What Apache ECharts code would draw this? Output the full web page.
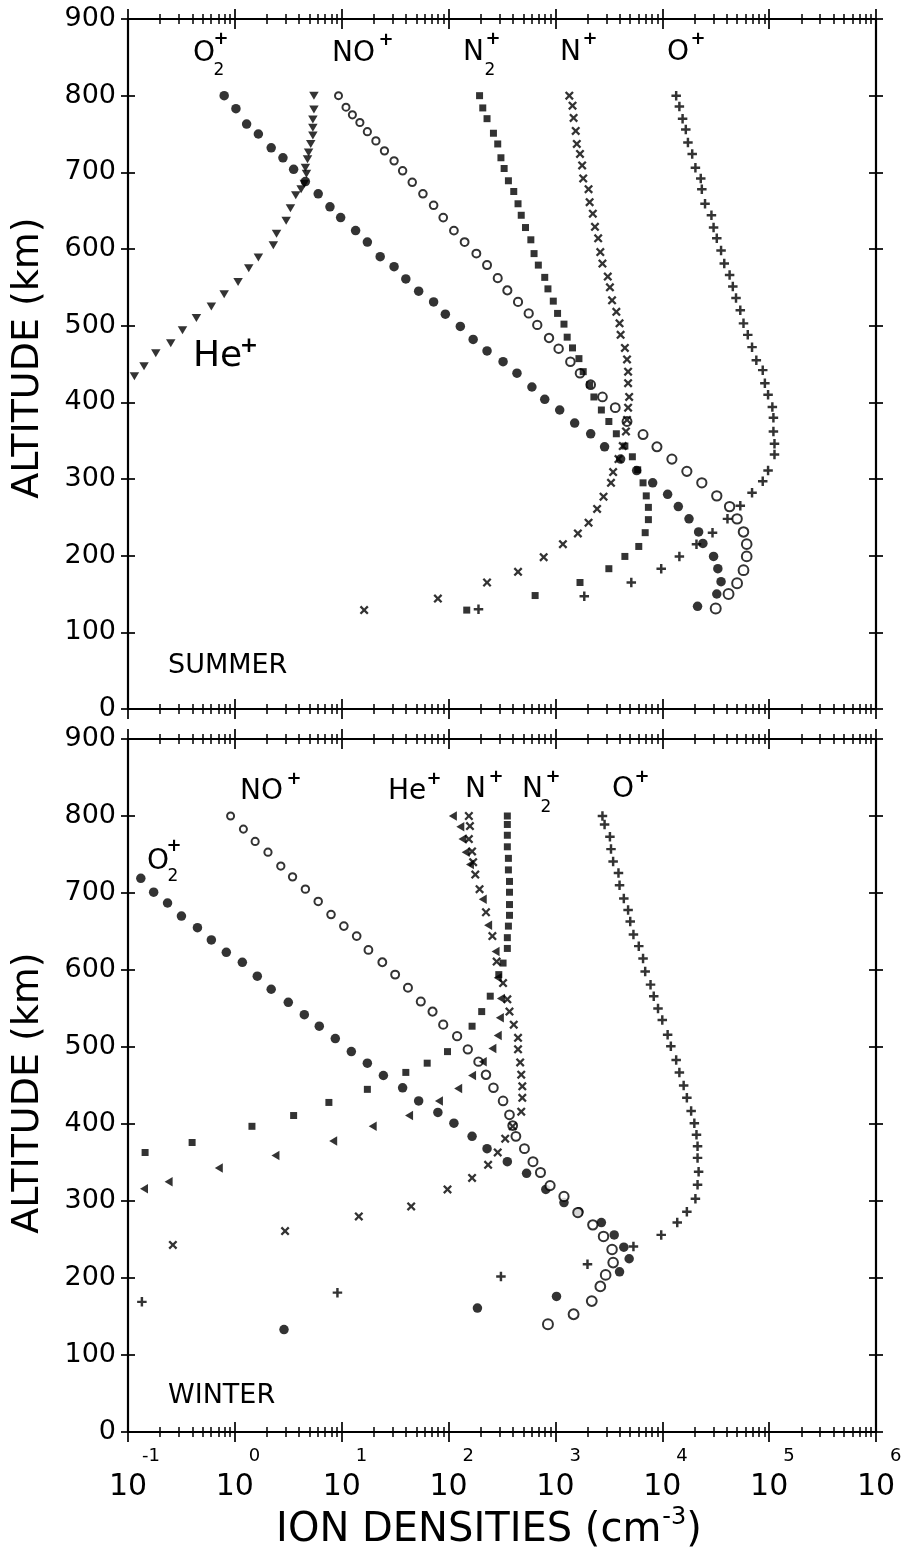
<!DOCTYPE html>
<html>
<head>
<meta charset="utf-8">
<script src="https://cdn.jsdelivr.net/npm/echarts@6/dist/echarts.min.js"></script>
<style>
html,body{margin:0;padding:0;background:#fff;}
#chart{width:904px;height:1552px;}
</style>
</head>
<body>
<div id="chart"></div>
<script>
// ---------- tick labels ----------
const altitudeTicks = [0, 100, 200, 300, 400, 500, 600, 700, 800, 900];
const decadeTicks = [0.1, 1, 10, 100, 1000, 10000, 100000, 1000000];
const decadeExponents = [-1, 0, 1, 2, 3, 4, 5, 6];
const minorMultipliers = [2, 3, 4, 5, 6, 7, 8, 9];

// ---------- data: [log10(ion density, cm^-3), altitude km] ----------
const summerO2 = [[-0.10,800],[0.01,783],[0.11,763],[0.22,750],[0.34,732],[0.45,719],[0.55,704],[0.66,688],[0.78,672],[0.89,655],[0.99,641],[1.13,624],[1.24,609],[1.36,590],[1.49,577],[1.60,561],[1.72,545],[1.86,531],[1.97,515],[2.11,499],[2.23,482],[2.36,467],[2.51,453],[2.64,438],[2.78,420],[2.90,404],[3.04,390],[3.18,373],[3.33,359],[3.46,342],[3.61,326],[3.76,311],[3.91,295],[4.05,280],[4.15,264],[4.25,248],[4.34,231],[4.38,216],[4.48,199],[4.52,183],[4.55,166],[4.51,150],[4.33,134]];
const summerNO = [[0.97,800],[1.04,785],[1.10,775],[1.17,765],[1.24,753],[1.32,741],[1.40,728],[1.49,715],[1.57,702],[1.66,687],[1.76,672],[1.86,657],[1.95,641],[2.05,624],[2.15,609],[2.26,594],[2.36,579],[2.46,562],[2.55,546],[2.65,531],[2.75,516],[2.83,501],[2.94,484],[3.03,470],[3.14,453],[3.23,438],[3.33,423],[3.44,407],[3.56,393],[3.67,375],[3.82,358],[3.95,342],[4.09,326],[4.23,310],[4.37,295],[4.51,278],[4.63,264],[4.70,248],[4.76,231],[4.79,215],[4.79,199],[4.76,181],[4.70,164],[4.62,150],[4.50,131]];
const summerN2 = [[2.29,800],[2.32,784],[2.36,770],[2.42,751],[2.46,737],[2.49,719],[2.52,705],[2.56,689],[2.61,675],[2.65,659],[2.68,644],[2.72,628],[2.77,612],[2.80,594],[2.84,579],[2.90,563],[2.93,548],[2.98,532],[3.02,516],[3.08,502],[3.11,485],[3.16,471],[3.22,457],[3.26,440],[3.32,423],[3.36,407],[3.43,390],[3.50,375],[3.57,359],[3.65,343],[3.72,329],[3.77,312],[3.82,295],[3.85,278],[3.87,263],[3.87,247],[3.84,230],[3.78,212],[3.65,199],[3.50,183],[3.23,165],[2.81,148],[2.17,129]];
const summerN = [[3.13,800],[3.16,787],[3.17,771],[3.19,754],[3.20,737],[3.23,724],[3.25,709],[3.26,692],[3.31,678],[3.32,661],[3.35,646],[3.37,629],[3.40,614],[3.42,596],[3.44,581],[3.49,564],[3.51,550],[3.53,533],[3.57,518],[3.60,503],[3.61,488],[3.65,471],[3.67,456],[3.68,440],[3.68,425],[3.69,407],[3.68,393],[3.67,377],[3.66,362],[3.63,343],[3.59,326],[3.54,309],[3.52,295],[3.45,277],[3.39,261],[3.31,243],[3.21,229],[3.07,215],[2.89,198],[2.65,179],[2.36,165],[1.90,144],[1.21,129]];
const summerO = [[4.13,800],[4.16,786],[4.19,770],[4.22,756],[4.24,739],[4.28,724],[4.31,706],[4.36,692],[4.37,678],[4.40,659],[4.46,644],[4.48,628],[4.51,614],[4.55,598],[4.58,581],[4.63,566],[4.66,551],[4.69,536],[4.73,520],[4.76,503],[4.80,488],[4.84,472],[4.88,455],[4.94,442],[4.96,425],[4.99,410],[5.03,394],[5.04,380],[5.04,362],[5.05,346],[5.05,332],[4.99,311],[4.94,297],[4.84,282],[4.73,265],[4.61,248],[4.47,230],[4.32,215],[4.16,199],[3.99,183],[3.71,165],[3.27,147],[2.28,130]];
const summerHe = [[0.74,800],[0.74,782],[0.73,769],[0.73,758],[0.73,748],[0.71,737],[0.69,726],[0.68,717],[0.66,706],[0.67,698],[0.65,685],[0.62,678],[0.57,670],[0.52,653],[0.48,637],[0.39,620],[0.36,605],[0.22,589],[0.13,575],[0.03,557],[-0.10,541],[-0.22,525],[-0.36,510],[-0.49,494],[-0.60,477],[-0.74,464],[-0.85,447],[-0.94,434]];

const winterO2 = [[-0.88,719],[-0.76,701],[-0.63,687],[-0.50,670],[-0.35,655],[-0.22,639],[-0.08,623],[0.07,610],[0.21,592],[0.34,575],[0.50,558],[0.65,542],[0.79,527],[0.94,511],[1.09,494],[1.24,479],[1.39,463],[1.57,447],[1.72,430],[1.90,415],[2.05,401],[2.22,384],[2.36,368],[2.55,351],[2.73,336],[2.91,315],[3.08,298],[3.22,286],[3.43,272],[3.55,256],[3.64,240],[3.69,225],[3.60,208],[3.01,176],[2.27,161],[0.46,133]];
const winterNO = [[-0.04,800],[0.08,783],[0.19,767],[0.31,753],[0.43,735],[0.54,721],[0.66,705],[0.78,689],[0.90,672],[1.02,657],[1.14,644],[1.25,626],[1.38,610],[1.50,594],[1.62,577],[1.74,559],[1.85,546],[1.95,529],[2.08,514],[2.18,497],[2.28,481],[2.35,464],[2.42,447],[2.51,430],[2.57,412],[2.60,398],[2.63,384],[2.71,368],[2.79,351],[2.86,337],[2.95,320],[3.08,306],[3.21,285],[3.35,269],[3.45,254],[3.53,237],[3.54,220],[3.47,204],[3.42,189],[3.34,170],[3.17,153],[2.93,140]];
const winterN2 = [[2.55,800],[2.55,789],[2.55,775],[2.55,760],[2.56,745],[2.56,730],[2.57,715],[2.57,701],[2.57,685],[2.57,671],[2.56,657],[2.55,642],[2.55,628],[2.51,609],[2.47,594],[2.39,566],[2.31,546],[2.22,527],[1.99,494],[1.80,479],[1.60,467],[1.24,445],[0.88,428],[0.55,411],[0.16,397],[-0.40,376],[-0.84,363]];
const winterN = [[2.19,800],[2.20,787],[2.19,770],[2.22,754],[2.23,740],[2.25,724],[2.29,705],[2.35,675],[2.41,644],[2.45,611],[2.51,583],[2.55,562],[2.57,546],[2.61,529],[2.65,512],[2.65,497],[2.67,480],[2.68,464],[2.69,449],[2.69,434],[2.68,416],[2.60,397],[2.53,381],[2.46,363],[2.37,347],[2.22,330],[1.99,315],[1.65,293],[1.16,280],[0.47,261],[-0.58,243]];
const winterO = [[3.44,800],[3.46,789],[3.51,773],[3.52,757],[3.54,741],[3.59,726],[3.60,710],[3.64,693],[3.68,678],[3.70,663],[3.73,646],[3.78,631],[3.82,615],[3.84,598],[3.89,581],[3.92,566],[3.96,550],[4.00,535],[4.05,516],[4.08,501],[4.13,483],[4.16,467],[4.20,450],[4.23,434],[4.27,417],[4.30,401],[4.32,386],[4.33,371],[4.33,356],[4.34,338],[4.33,321],[4.31,303],[4.23,286],[4.14,272],[3.99,256],[3.73,241],[3.30,218],[2.49,202],[0.96,181],[-0.87,169]];
const winterHe = [[2.04,800],[2.11,786],[2.13,770],[2.16,753],[2.20,737],[2.32,692],[2.37,658],[2.44,624],[2.46,590],[2.49,563],[2.48,538],[2.46,515],[2.41,498],[2.32,481],[2.22,463],[2.09,446],[1.91,430],[1.63,411],[1.29,397],[0.92,378],[0.38,359],[-0.15,343],[-0.62,325],[-0.85,316]];

// ---------- styling ----------
const INK = '#000000';
const FONT = '"DejaVu Sans", "Liberation Sans", sans-serif';
const GRID_LEFT = 128, GRID_W = 748;

const minorTicks = [];
decadeExponents.slice(0, -1).forEach(e => minorMultipliers.forEach(k => minorTicks.push(Number((k * Math.pow(10, e)).toPrecision(3)))));

function toDensity(arr) { return arr.map(p => [Math.pow(10, p[0]), p[1]]); }

// "10" part of each decade label, centred on the tick
const baseLabel = { show: true, customValues: decadeTicks, margin: 40, color: INK,
  fontSize: 30, fontFamily: FONT, formatter: () => '10' };
// exponent part of each decade label, raised and to the right of "10"
const expLabel = { show: true, customValues: decadeTicks, margin: 15, color: INK,
  fontSize: 18, fontFamily: FONT, align: 'left', padding: [0, 0, 0, 14],
  formatter: v => String(Math.round(Math.log10(v))) };

function makeXAxes(grid, withLabels) {
  const variants = [
    ['bottom', false, true], ['bottom', true, true], ['bottom', false, false], ['bottom', true, false],
    ['top', false, true], ['top', true, true], ['top', false, false], ['top', true, false]
  ];
  return variants.map(([pos, inside, major], i) => ({
    type: 'log', logBase: 10, min: 0.1, max: 1000000, gridIndex: grid, position: pos,
    axisLine: { show: i === 0 || i === 4, onZero: false, lineStyle: { color: INK, width: 2 } },
    axisTick: { show: true, inside: inside, length: major ? 10 : 5,
      customValues: major ? decadeTicks : minorTicks,
      lineStyle: { color: INK, width: major ? 1.7 : 1.5 } },
    axisLabel: withLabels && i === 0 ? baseLabel : (withLabels && i === 1 ? expLabel : { show: false }),
    splitLine: { show: false }, minorTick: { show: false }, minorSplitLine: { show: false },
    silent: true
  }));
}

function makeYAxes(grid) {
  const variants = [['left', false], ['left', true], ['right', false], ['right', true]];
  return variants.map(([pos, inside], i) => ({
    type: 'value', min: 0, max: 900, interval: 100, gridIndex: grid, position: pos,
    axisLine: { show: !inside, onZero: false, lineStyle: { color: INK, width: 2.2 } },
    axisTick: { show: true, inside: inside, length: 7, lineStyle: { color: INK, width: 1.7 } },
    axisLabel: i === 0 ? { show: true, margin: 12, fontSize: 27, fontFamily: FONT, color: INK,
      customValues: altitudeTicks } : { show: false },
    splitLine: { show: false }, silent: true
  }));
}

const CROSS = 'path://M0,1.8L1.8,0L5,3.2L8.2,0L10,1.8L6.8,5L10,8.2L8.2,10L5,6.8L1.8,10L0,8.2L3.2,5Z';
const PLUS = 'path://M3.7,0H6.3V3.7H10V6.3H6.3V10H3.7V6.3H0V3.7H3.7Z';
function openCircleSize(v) { return 10 - 3 * (v[1] - 130) / 670; }

function panelSeries(xi, yi, d, heRotate) {
  const base = { type: 'scatter', xAxisIndex: xi, yAxisIndex: yi, silent: true, animation: false };
  return [
    Object.assign({}, base, { name: 'O2+', data: toDensity(d.O2), symbol: 'circle', symbolSize: 9.5, itemStyle: { color: INK } }),
    Object.assign({}, base, { name: 'NO+', data: toDensity(d.NO), symbol: 'emptyCircle', symbolSize: openCircleSize, itemStyle: { color: INK, borderColor: INK, borderWidth: 1.6 } }),
    Object.assign({}, base, { name: 'N2+', data: toDensity(d.N2), symbol: 'rect', symbolSize: 7, itemStyle: { color: INK } }),
    Object.assign({}, base, { name: 'N+', data: toDensity(d.N), symbol: CROSS, symbolSize: 9, itemStyle: { color: INK } }),
    Object.assign({}, base, { name: 'O+', data: toDensity(d.O), symbol: PLUS, symbolSize: 9.5, itemStyle: { color: INK } }),
    Object.assign({}, base, { name: 'He+', data: toDensity(d.He), symbol: 'triangle', symbolSize: [9.5, 8], symbolRotate: heRotate, itemStyle: { color: INK } })
  ];
}

function txt(x, y, text, size, extra) {
  return Object.assign({ type: 'text', x: x, y: y, silent: true,
    style: Object.assign({ text: text, fill: INK, fontSize: size, fontFamily: FONT, align: 'left', verticalAlign: 'middle' }, extra || {}) });
}
// ion label: base text, optional subscript and superscript '+'
function ion(x, y, base, sub, subX, subY, supX, supY, size, supSize) {
  const els = [txt(x, y, base, size || 28)];
  if (sub) els.push(txt(subX, subY, sub, 17, { align: 'center' }));
  els.push(txt(supX, supY, '+', supSize || 18, { align: 'center', fontWeight: 'bold' }));
  return els;
}

const graphics = [].concat(
  ion(193, 54, 'O', '2', 219, 71, 221, 39),
  ion(332, 54, 'NO', null, 0, 0, 386, 40),
  ion(463, 53, 'N', '2', 490, 71, 493, 39),
  ion(560, 53, 'N', null, 0, 0, 590, 39),
  ion(667, 53, 'O', null, 0, 0, 698, 39),
  ion(193, 357, 'He', null, 0, 0, 249, 346, 36, 22),
  [txt(168, 666, 'SUMMER', 27)],
  ion(240, 792, 'NO', null, 0, 0, 294, 779),
  ion(388, 792, 'He', null, 0, 0, 434, 779),
  ion(465, 790, 'N', null, 0, 0, 496, 777),
  ion(522, 790, 'N', '2', 546, 808, 553, 777),
  ion(612, 790, 'O', null, 0, 0, 642, 777),
  ion(147, 862, 'O', '2', 173, 877, 174, 846),
  [txt(168, 1396, 'WINTER', 27)],
  [
    txt(28, 358, 'ALTITUDE (km)', 38, { align: 'center' }),
    txt(28, 1093, 'ALTITUDE (km)', 38, { align: 'center' }),
    txt(489, 1531, 'ION DENSITIES (cm{s|-3})', 40, { align: 'center',
      rich: { s: { fontSize: 24, fontFamily: FONT, fill: INK, padding: [0, 0, 26, 1] } } })
  ]
);
graphics[graphics.length - 3].rotation = Math.PI / 2;
graphics[graphics.length - 2].rotation = Math.PI / 2;

const chart = echarts.init(document.getElementById('chart'), null, { renderer: 'canvas' });
chart.setOption({
  backgroundColor: '#ffffff',
  animation: false,
  grid: [
    { left: GRID_LEFT, top: 19, width: GRID_W, height: 690, containLabel: false, outerBoundsMode: 'none' },
    { left: GRID_LEFT, top: 739, width: GRID_W, height: 693, containLabel: false, outerBoundsMode: 'none' }
  ],
  xAxis: makeXAxes(0, false).concat(makeXAxes(1, true)),
  yAxis: makeYAxes(0).concat(makeYAxes(1)),
  series: panelSeries(0, 0, { O2: summerO2, NO: summerNO, N2: summerN2, N: summerN, O: summerO, He: summerHe }, 180)
    .concat(panelSeries(8, 4, { O2: winterO2, NO: winterNO, N2: winterN2, N: winterN, O: winterO, He: winterHe }, 90)),
  graphic: graphics
});
</script>
</body>
</html>
